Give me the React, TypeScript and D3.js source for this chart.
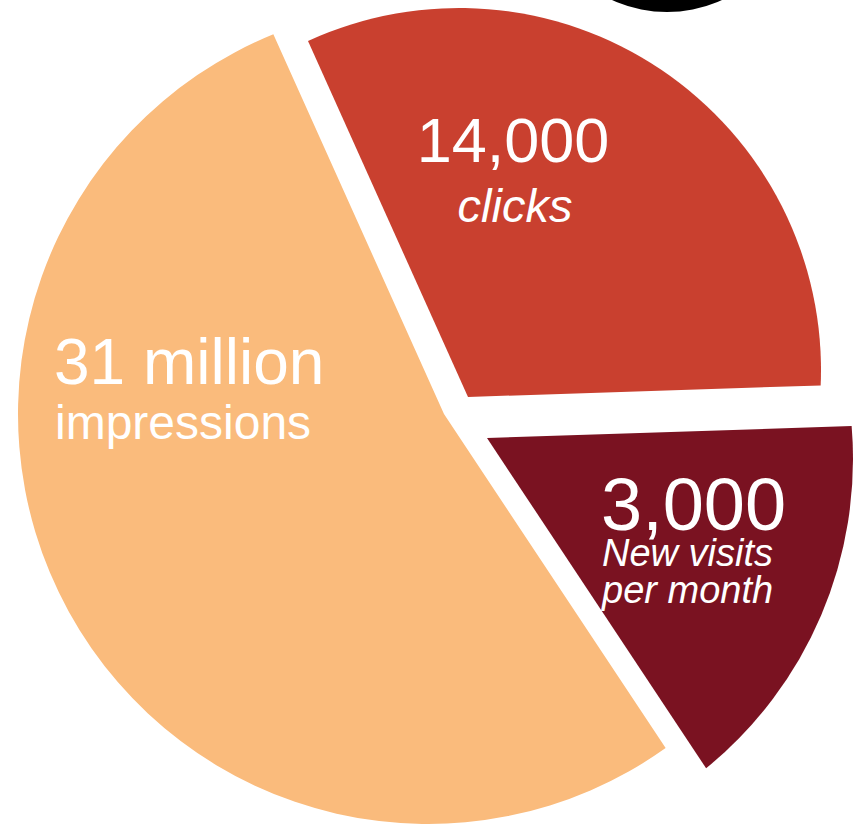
import React, { useRef, useEffect } from 'react';
import * as d3 from 'd3';

// slice order runs clockwise from the upper-left edge of the red slice
const categories = ['clicks', 'visits', 'impressions'];
const shares = [31.2, 16.2, 52.6];
const valueLabels = ['14,000', '3,000', '31 million'];
const captionLines = [['clicks'], ['New visits', 'per month'], ['impressions']];
const sliceColors = ['#C9402F', '#7A1221', '#FABB7C'];

const WIDTH = 856;
const HEIGHT = 824;
const CENTER = { x: 444, y: 414 };
const START_ANGLE = (-24.2 * Math.PI) / 180;
const FONT = '"Liberation Sans", Arial, Helvetica, sans-serif';

// how far each slice is pulled out of the pie
const explode = [
  { dx: 24, dy: -17 },
  { dx: 43, dy: 24 },
  { dx: 0, dy: 0 },
];
// the rim of each slice is a circle whose centre sits a bit off the tip (as in the artwork)
const rims = [
  { dx: -9, dy: -27, r: 362 },
  { dx: -33, dy: 21, r: 399 },
  { dx: -16, dy: 0, r: 410 },
];

const labelLayout = [
  { x: 513, y: 162, anchor: 'middle', valueSize: 63, captionSize: 47, italic: true, firstGap: 60, lineHeight: 38 },
  { x: 601, y: 530, anchor: 'start', valueSize: 74, captionSize: 38, italic: true, firstGap: 36, lineHeight: 37 },
  { x: 54, y: 384, anchor: 'start', valueSize: 64, captionSize: 48, italic: false, firstGap: 55, lineHeight: 50 },
];

function slicePath(a: d3.PieArcDatum<number>, i: number) {
  const ax = CENTER.x + explode[i].dx;
  const ay = CENTER.y + explode[i].dy;
  const kx = ax + rims[i].dx;
  const ky = ay + rims[i].dy;
  const r = rims[i].r;

  // where a ray leaving the tip at pie angle theta meets the rim
  const hit = (theta: number) => {
    const ux = Math.sin(theta);
    const uy = -Math.cos(theta);
    const b = ux * (ax - kx) + uy * (ay - ky);
    const c = (ax - kx) ** 2 + (ay - ky) ** 2 - r * r;
    const t = -b + Math.sqrt(b * b - c);
    return [ax + t * ux, ay + t * uy];
  };

  const p0 = hit(a.startAngle);
  const p1 = hit(a.endAngle);
  const a0 = Math.atan2(p0[1] - ky, p0[0] - kx);
  const a1 = Math.atan2(p1[1] - ky, p1[0] - kx);

  const p = d3.path();
  p.moveTo(ax, ay);
  p.lineTo(p0[0], p0[1]);
  p.arc(kx, ky, r, a0, a1, false);
  p.closePath();
  return p.toString();
}

const App: React.FC = () => {
  const svgRef = useRef<SVGSVGElement>(null);

  useEffect(() => {
    if (!svgRef.current) return;
    const svg = d3.select(svgRef.current);
    svg.selectAll('*').remove();

    // cropped black disc at the top edge
    svg.append('circle')
      .attr('cx', 667)
      .attr('cy', -120)
      .attr('r', 132)
      .attr('fill', '#000');

    const pie = d3.pie<number>()
      .value(d => d)
      .sort(null)
      .startAngle(START_ANGLE)
      .endAngle(START_ANGLE + 2 * Math.PI);

    const arcs = pie(shares);

    svg.append('g')
      .selectAll('path')
      .data(arcs)
      .join('path')
      .attr('class', (_, i) => `slice ${categories[i]}`)
      .attr('d', (d, i) => slicePath(d, i))
      .attr('fill', (_, i) => sliceColors[i]);

    // Labels
    const labels = svg.append('g').attr('fill', '#fff').attr('font-family', FONT);

    arcs.forEach((_, i) => {
      const L = labelLayout[i];
      labels.append('text')
        .attr('x', L.x)
        .attr('y', L.y)
        .attr('text-anchor', L.anchor)
        .attr('font-size', L.valueSize)
        .text(valueLabels[i]);

      const cap = labels.append('text')
        .attr('text-anchor', L.anchor)
        .attr('font-size', L.captionSize)
        .attr('font-style', L.italic ? 'italic' : 'normal');

      captionLines[i].forEach((line, j) => {
        cap.append('tspan')
          .attr('x', L.anchor === 'start' ? L.x + 1 : L.x + 2)
          .attr('y', L.y + L.firstGap + j * L.lineHeight)
          .text(line);
      });
    });
  }, []);

  return (
    <svg
      ref={svgRef}
      width={WIDTH}
      height={HEIGHT}
      style={{ position: 'absolute', left: 0, top: 0, background: '#fff' }}
    />
  );
};

export default App;
